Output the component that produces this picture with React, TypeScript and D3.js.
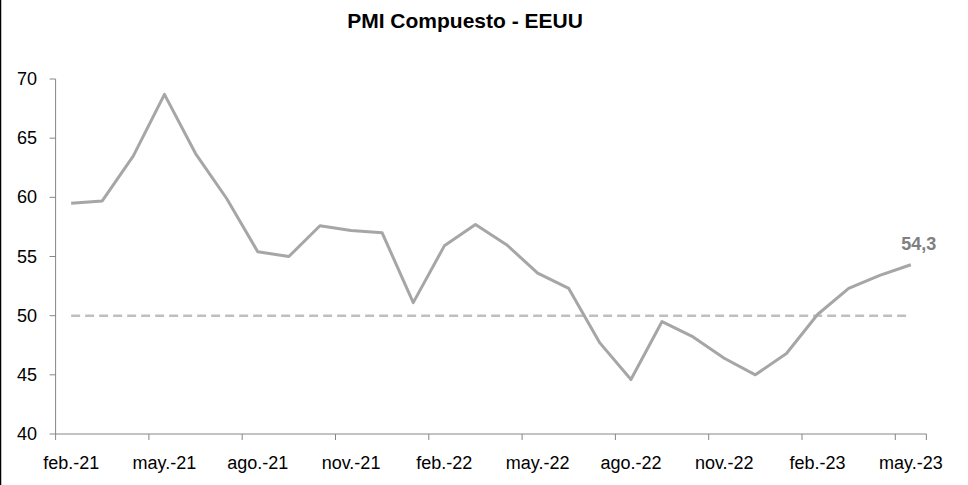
import React from "react";
import * as d3 from "d3";

const months: string[] = [
  "feb.-21","mar.-21","abr.-21","may.-21","jun.-21","jul.-21","ago.-21","sep.-21","oct.-21","nov.-21","dic.-21",
  "ene.-22","feb.-22","mar.-22","abr.-22","may.-22","jun.-22","jul.-22","ago.-22","sep.-22","oct.-22","nov.-22","dic.-22",
  "ene.-23","feb.-23","mar.-23","abr.-23","may.-23",
];
const pmi: number[] = [
  59.5, 59.7, 63.5, 68.7, 63.7, 59.9, 55.4, 55.0, 57.6, 57.2, 57.0,
  51.1, 55.9, 57.7, 56.0, 53.6, 52.3, 47.7, 44.6, 49.5, 48.2, 46.4, 45.0,
  46.8, 50.1, 52.3, 53.4, 54.3,
];
const yTicks: number[] = [40, 45, 50, 55, 60, 65, 70];
const threshold = 50;
const title = "PMI Compuesto - EEUU";
const lastLabel = "54,3";

const W = 968, H = 485;
const left = 55.6, right = 926.4, top = 79, bottom = 434;

export default function App() {
  const x = d3.scaleBand<string>().domain(months).range([left, right]);
  const y = d3.scaleLinear().domain([40, 70]).range([bottom, top]);
  const cx = (m: string) => (x(m) as number) + x.bandwidth() / 2;
  const line = d3.line<number>().x((_, i) => cx(months[i])).y((d) => y(d));
  const labelIdx = months.map((_, i) => i).filter((i) => i % 3 === 0);
  const tickIdx = [...labelIdx, months.length];
  const lastX = cx(months[months.length - 1]);
  const lastY = y(pmi[pmi.length - 1]);
  return (
    <svg width={W} height={H} style={{ position: "absolute", left: 0, top: 0, background: "#fff" }}
      fontFamily="'Liberation Sans', Arial, sans-serif">
      <rect x={0} y={0} width={W} height={H} fill="#fff" />
      <line x1={0.5} x2={0.5} y1={0} y2={H} stroke="#000" strokeWidth={1.5} />
      <text x={465} y={28} textAnchor="middle" fontSize={21} fontWeight="bold" fill="#000">{title}</text>
      {/* y axis */}
      <line x1={left} x2={left} y1={top} y2={bottom} stroke="#868686" strokeWidth={1} />
      {yTicks.map((t) => (
        <g key={t}>
          <line x1={left - 6} x2={left} y1={y(t)} y2={y(t)} stroke="#868686" />
          <text x={37} y={y(t) + 6} textAnchor="end" fontSize={18} fill="#000">{t}</text>
        </g>
      ))}
      {/* x axis */}
      <line x1={left} x2={right} y1={bottom} y2={bottom} stroke="#868686" strokeWidth={1} />
      {tickIdx.map((i) => {
        const tx = i < months.length ? (x(months[i]) as number) : right;
        return <line key={i} x1={tx} x2={tx} y1={bottom} y2={bottom + 6} stroke="#868686" />;
      })}
      {labelIdx.map((i) => (
        <text key={i} x={cx(months[i])} y={469} textAnchor="middle" fontSize={18} fill="#000">{months[i]}</text>
      ))}
      {/* threshold */}
      <line x1={cx(months[0])} x2={lastX} y1={y(threshold)} y2={y(threshold)}
        stroke="#bfbfbf" strokeWidth={2.5} strokeDasharray="9,5" />
      <path d={line(pmi) || ""} fill="none" stroke="#a6a6a6" strokeWidth={3} strokeLinejoin="round" />
      <text x={lastX + 8} y={lastY - 15} textAnchor="middle" fontSize={18} fontWeight="bold" fill="#808080">{lastLabel}</text>
    </svg>
  );
}
